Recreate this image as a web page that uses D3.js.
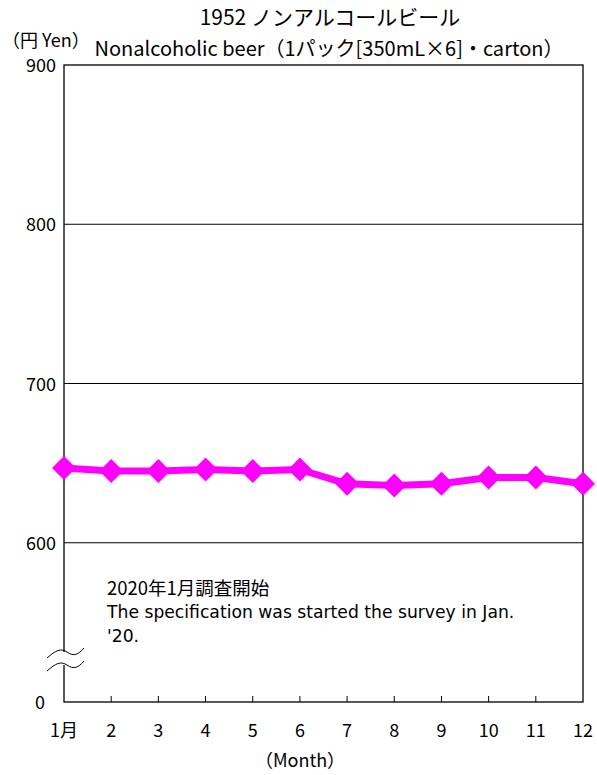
<!DOCTYPE html>
<html><head><meta charset="utf-8">
<script src="https://cdn.jsdelivr.net/npm/d3@7"></script>
<style>body{margin:0;background:#fff;} text{fill:#000;}</style>
</head><body>
<svg id="c" width="597" height="775" font-family="Noto Sans CJK JP, Noto Sans, sans-serif"></svg>
<script>
const months = ["1月","2","3","4","5","6","7","8","9","10","11","12"];
const prices = [647,645,645,646,645,646,637,636,637,641,641,637];
const yTicks = [600,700,800,900];
const yTickLabels = ["600","700","800","900"];
const titleLines = ["1952 ノンアルコールビール","Nonalcoholic beer（1パック[350mL×6]・carton）"];
const noteLines = ["2020年1月調査開始","The specification was started the survey in Jan.","'20."];

const svg = d3.select("#c");
const L=64, R=583, T=65, B=702;
const x = d3.scalePoint().domain(months).range([L,R]);
const y = d3.scaleLinear().domain([500,900]).range([B,T]);

svg.append("g").selectAll("line").data(yTicks.slice(0,3)).join("line")
  .attr("x1",L).attr("x2",R).attr("y1",d=>y(d)).attr("y2",d=>y(d))
  .attr("stroke","#000").attr("stroke-width",1);
svg.append("rect").attr("x",L).attr("y",T).attr("width",R-L).attr("height",B-T)
  .attr("fill","none").attr("stroke","#000").attr("stroke-width",1.3);
svg.append("g").selectAll("line").data(months.slice(1,11)).join("line")
  .attr("x1",d=>x(d)).attr("x2",d=>x(d)).attr("y1",B).attr("y2",B-6).attr("stroke","#000");
svg.append("g").selectAll("text").data(yTicks).join("text")
  .attr("x",41).attr("y",d=>y(d)+7).attr("text-anchor","middle").attr("font-size",18)
  .text((d,i)=>yTickLabels[i]);
svg.append("text").attr("x",40).attr("y",B+7).attr("text-anchor","middle").attr("font-size",18).text("0");
svg.append("g").selectAll("text").data(months).join("text")
  .attr("x",d=>x(d)).attr("y",737).attr("text-anchor","middle").attr("font-size",18).text(d=>d);
svg.append("text").attr("x",300).attr("y",767).attr("text-anchor","middle").attr("font-size",18).text("（Month）");
svg.append("text").attr("x",330).attr("y",25).attr("text-anchor","middle").attr("font-size",21).text(titleLines[0]);
svg.append("text").attr("x",329).attr("y",56).attr("text-anchor","middle").attr("font-size",20).text(titleLines[1]);
svg.append("text").attr("x",2).attr("y",47).attr("font-size",18).text("（円 Yen）");
svg.append("text").attr("x",107).attr("y",595).attr("font-size",18.5).text(noteLines[0]);
svg.append("text").attr("x",107).attr("y",618).style("font-family","DejaVu Sans").attr("font-size",17.2).text(noteLines[1]);
svg.append("text").attr("x",107).attr("y",642).style("font-family","DejaVu Sans").attr("font-size",17.2).text(noteLines[2]);
const br = svg.append("g");
br.append("rect").attr("x",48).attr("y",652).attr("width",36).attr("height",13).attr("fill","#fff");
[0,13].forEach(o=>{
  br.append("path").attr("d",`M47,${658+o} C56,${650+o} 61,${648+o} 67,${652+o} S77,${656+o} 84,${648+o}`)
   .attr("fill","none").attr("stroke","#000").attr("stroke-width",1);
});
const line = d3.line().x((d,i)=>x(months[i])).y(d=>y(d));
svg.append("path").datum(prices).attr("d",line).attr("fill","none")
  .attr("stroke","#ff00ff").attr("stroke-width",7).attr("stroke-linejoin","round");
svg.append("g").selectAll("path").data(prices).join("path")
  .attr("transform",(d,i)=>`translate(${x(months[i])},${y(d)})`)
  .attr("d","M0,-12L12,0L0,12L-12,0Z").attr("fill","#ff00ff");
</script>
</body></html>
